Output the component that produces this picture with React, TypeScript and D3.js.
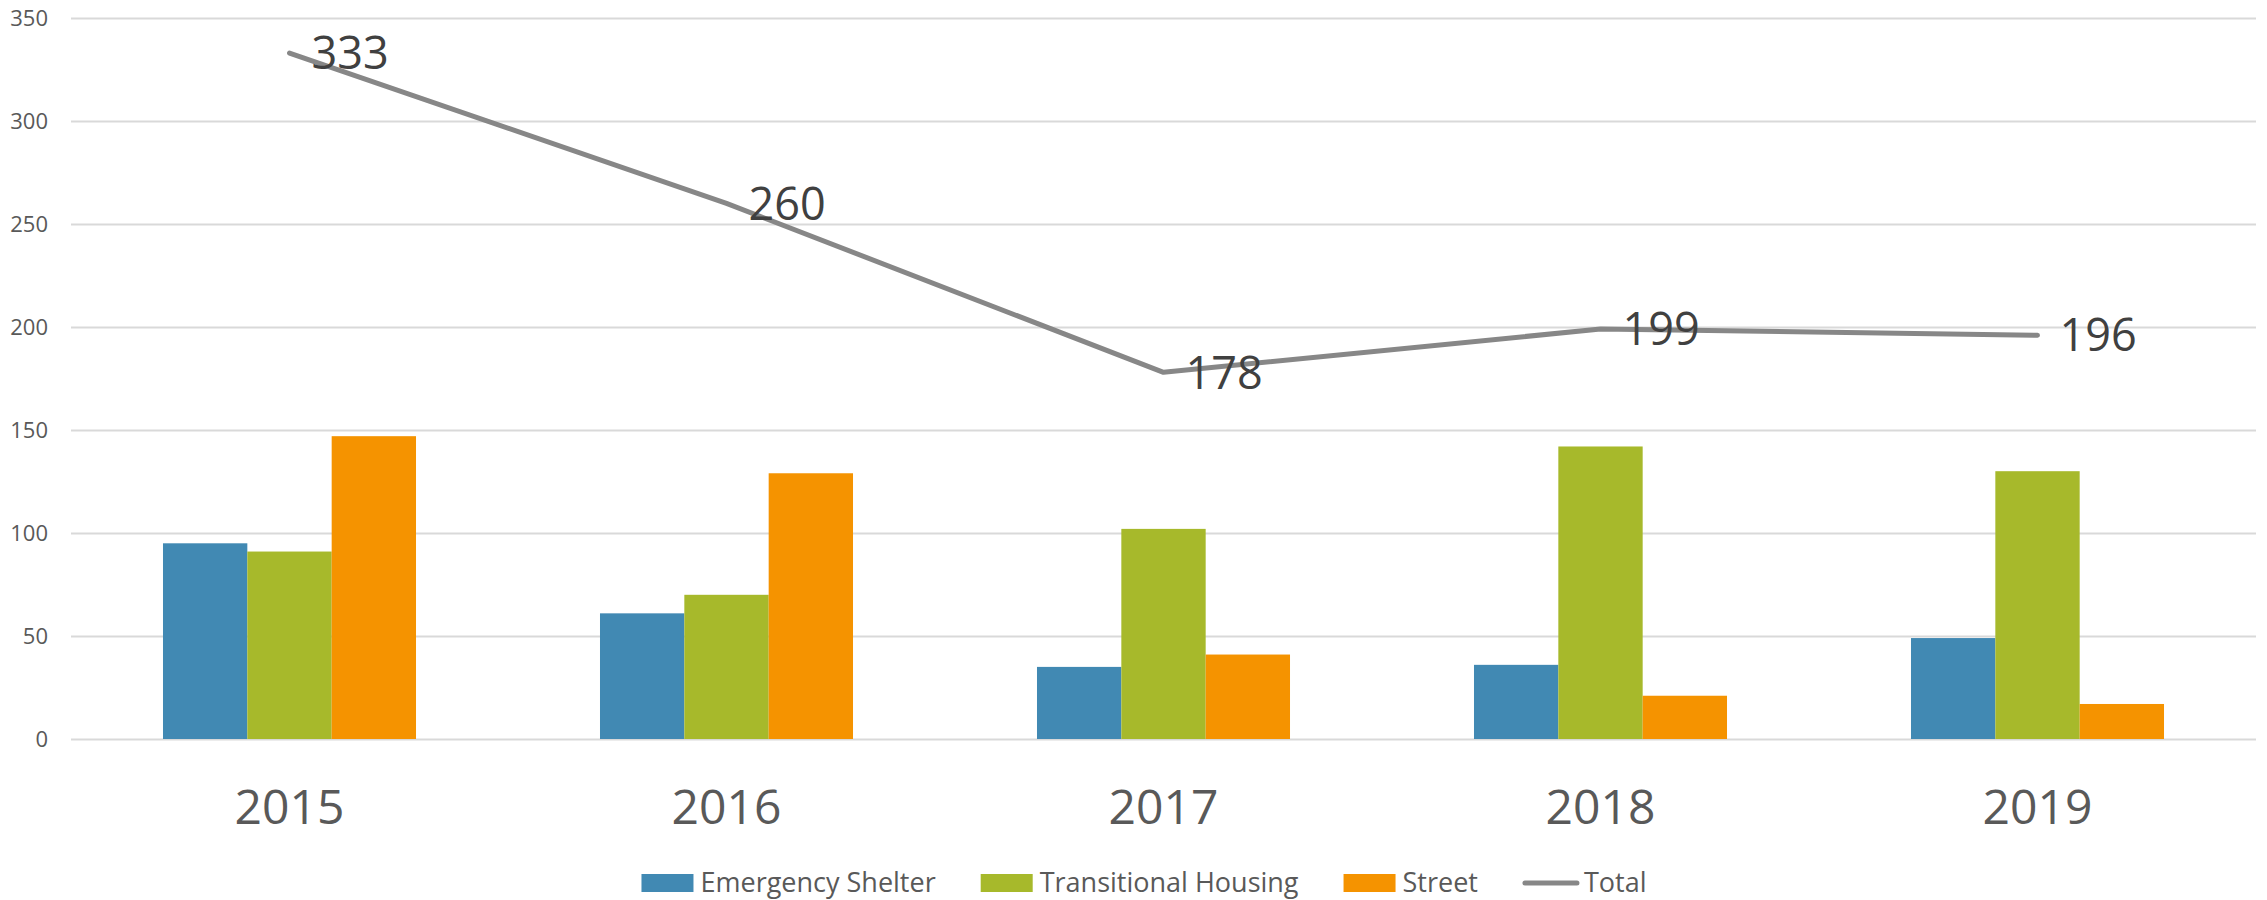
import React, { useRef, useEffect } from 'react';
import * as d3 from 'd3';

const years = ['2015', '2016', '2017', '2018', '2019'];
const seriesNames = ['Emergency Shelter', 'Transitional Housing', 'Street'];
const emergencyShelter = [95, 61, 35, 36, 49];
const transitionalHousing = [91, 70, 102, 142, 130];
const street = [147, 129, 41, 21, 17];
const total = [333, 260, 178, 199, 196];
const yTicks = [0, 50, 100, 150, 200, 250, 300, 350];

const colors = ['#4189b3', '#a7b92b', '#f59300'];
const lineColor = '#878787';

function App() {
  const svgRef = useRef<SVGSVGElement>(null);

  useEffect(() => {
    document.body.style.margin = '0';
    const svg = d3.select(svgRef.current);
    svg.selectAll('*').remove(); // start clean

    const width = 2267;
    const height = 900;
    const margin = { top: 18, right: 11, bottom: 161, left: 71 };
    const font = "'Open Sans', sans-serif";

    const x0 = d3.scaleBand()
      .domain(years)
      .range([margin.left, width - margin.right])
      .paddingInner(0.421)
      .paddingOuter(0.2105);

    const x1 = d3.scaleBand()
      .domain(seriesNames)
      .range([0, x0.bandwidth()]);

    const y = d3.scaleLinear()
      .domain([0, 350])
      .range([height - margin.bottom, margin.top]);

    // gridlines + y labels
    const yAxis = d3.axisLeft(y)
      .tickValues(yTicks)
      .tickSize(-(width - margin.left - margin.right))
      .tickPadding(23);

    const gy = svg.append('g')
      .attr('transform', `translate(${margin.left},0)`)
      .call(yAxis);
    gy.select('.domain').remove();
    gy.selectAll('.tick line').attr('stroke', '#d9d9d9').attr('stroke-width', 2);
    gy.selectAll('.tick text')
      .attr('fill', '#595959')
      .style('font-family', font)
      .style('font-size', '22px');

    // x labels
    const xAxis = d3.axisBottom(x0).tickSize(0).tickPadding(51);
    const gx = svg.append('g')
      .attr('transform', `translate(0,${height - margin.bottom})`)
      .call(xAxis);
    gx.select('.domain').remove();
    gx.selectAll('.tick text')
      .attr('fill', '#595959')
      .style('font-family', font)
      .style('font-size', '48px');

    // bars
    const rows = years.map((yr, i) => ({
      year: yr,
      values: [emergencyShelter[i], transitionalHousing[i], street[i]],
    }));

    svg.append('g')
      .selectAll('g')
      .data(rows)
      .join('g')
      .attr('transform', d => `translate(${x0(d.year)},0)`)
      .selectAll('rect')
      .data(d => d.values.map((v, j) => ({ key: seriesNames[j], value: v, j })))
      .join('rect')
      .attr('x', d => x1(d.key)!)
      .attr('y', d => y(d.value))
      .attr('width', x1.bandwidth())
      .attr('height', d => y(0) - y(d.value))
      .attr('fill', d => colors[d.j]);

    // total line
    const cx = (yr: string) => x0(yr)! + x0.bandwidth() / 2;
    const line = d3.line<number>()
      .x((d, i) => cx(years[i]))
      .y(d => y(d));

    svg.append('path')
      .datum(total)
      .attr('fill', 'none')
      .attr('stroke', lineColor)
      .attr('stroke-width', 5)
      .attr('stroke-linecap', 'round')
      .attr('stroke-linejoin', 'round')
      .attr('d', line);

    svg.append('g')
      .selectAll('text')
      .data(total)
      .join('text')
      .attr('x', (d, i) => cx(years[i]) + 22)
      .attr('y', d => y(d))
      .attr('dy', '0.36em')
      .attr('fill', '#404040')
      .style('font-family', font)
      .style('font-size', '45px')
      .text(d => d);

    // legend
    const legendItems = [...seriesNames, 'Total'];
    const legend = svg.append('g');
    const legendY = 883;
    let cursor = 0;
    legendItems.forEach((name, i) => {
      const g = legend.append('g').attr('transform', `translate(${cursor},0)`);
      if (i < 3) {
        g.append('rect')
          .attr('x', 0)
          .attr('y', legendY - 9)
          .attr('width', 52)
          .attr('height', 18)
          .attr('fill', colors[i]);
      } else {
        g.append('line')
          .attr('x1', 2).attr('x2', 54)
          .attr('y1', legendY).attr('y2', legendY)
          .attr('stroke', lineColor)
          .attr('stroke-width', 5)
          .attr('stroke-linecap', 'round');
      }
      const t = g.append('text')
        .attr('x', i < 3 ? 59 : 61)
        .attr('y', legendY)
        .attr('dy', '0.35em')
        .attr('fill', '#595959')
        .style('font-family', font)
        .style('font-size', '27px')
        .text(name);
      const tw = (t.node() as SVGTextElement).getComputedTextLength();
      cursor += (i < 3 ? 59 : 61) + tw + 45;
    });
    const legendWidth = cursor - 45;
    legend.attr('transform', `translate(${1144 - legendWidth / 2},0)`);
  }, []);

  return <svg ref={svgRef} width={2267} height={900} style={{ display: 'block' }} />;
}

export default App;
